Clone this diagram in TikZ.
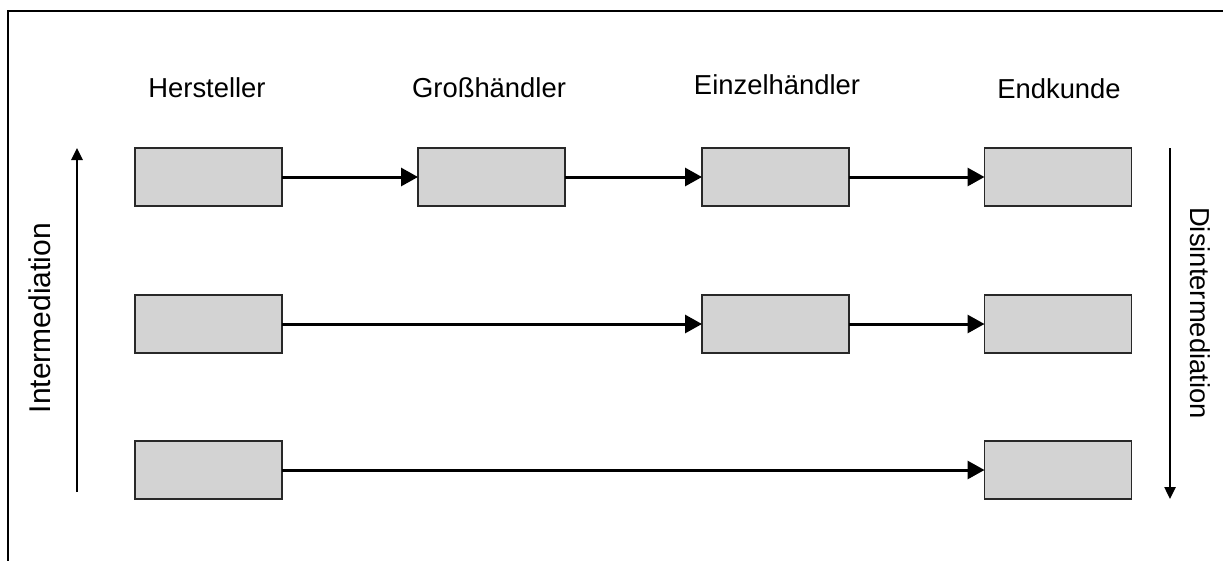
\documentclass[tikz,border=0pt]{standalone}
\usepackage{fontspec}
\setmainfont{Liberation Sans}
\usetikzlibrary{arrows.meta}
\definecolor{boxgray}{RGB}{211,211,211}
\definecolor{boxline}{RGB}{40,40,40}
\begin{document}
\begin{tikzpicture}[x=1pt,y=-1pt,
  box/.style={draw=boxline, line width=1.7pt, fill=boxgray, minimum width=147pt, minimum height=58pt, inner sep=0pt, outer sep=0pt},
  flow/.style={line width=3pt, -{Triangle[length=17pt,width=18pt]}},
  axisarrow/.style={line width=2.5pt, -{Triangle[length=12pt,width=11pt]}},
  lbl/.style={font=\fontsize{27.4}{32}\selectfont, inner sep=0pt, anchor=base},
  biglbl/.style={font=\fontsize{30}{36}\selectfont, inner sep=0pt, anchor=base}]
\useasboundingbox (0,0) rectangle (1223,560);
\draw[line width=2.2pt] (1226,11) -- (8,11) -- (8,563);
% column labels
\node[lbl] (lh) at (207,97) {Hersteller};
\node[lbl] (lg) at (489,97) {Großhändler};
\node[lbl] (le) at (777,94) {Einzelhändler};
\node[lbl] (lk) at (1059,98) {Endkunde};
% row 1
\node[box] (a1) at (208.5,177) {};
\node[box] (a2) at (491.5,177) {};
\node[box] (a3) at (775.5,177) {};
\node[box] (a4) at (1058,177) {};
% row 2
\node[box] (b1) at (208.5,324) {};
\node[box] (b3) at (775.5,324) {};
\node[box] (b4) at (1058,324) {};
% row 3
\node[box] (c1) at (208.5,470) {};
\node[box] (c4) at (1058,470) {};
% flows
\draw[flow] (a1) -- (a2);
\draw[flow] (a2) -- (a3);
\draw[flow] (a3) -- (a4);
\draw[flow] (b1) -- (b3);
\draw[flow] (b3) -- (b4);
\draw[flow] (c1) -- (c4);
% side arrows
\coordinate (iS) at (77,492);
\coordinate (iE) at (77,148);
\coordinate (dS) at (1170,148);
\coordinate (dE) at (1170,499);
\draw[axisarrow] (iS) -- (iE);
\draw[axisarrow] (dS) -- (dE);
\node[biglbl, rotate=90] (li) at (50,318) {Intermediation};
\node[lbl, rotate=-90] (ld) at (1190,313) {Disintermediation};
\end{tikzpicture}
\end{document}
